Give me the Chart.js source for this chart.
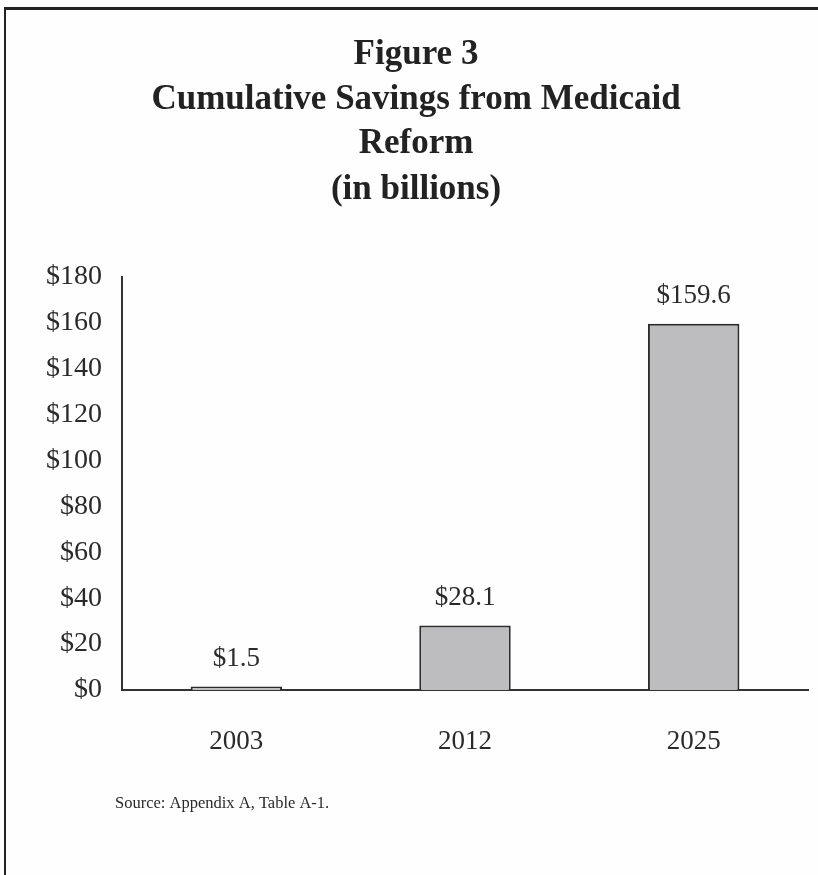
<!DOCTYPE html>
<html>
<head>
<meta charset="utf-8">
<script src="https://cdn.jsdelivr.net/npm/chart.js@4"></script>
<style>
  html, body { margin: 0; padding: 0; background: #fefefe; }
  #wrap { position: relative; width: 818px; height: 875px; }
  #frame { position: absolute; left: 4px; top: 7px; right: 0; bottom: 0;
           border-left: 2px solid #222; border-top: 3px solid #222; }
  canvas { position: absolute; left: 0; top: 0; }
</style>
</head>
<body>
<div id="wrap">
  <div id="frame"></div>
  <canvas id="chart" width="818" height="875"></canvas>
</div>
<script>
// figure data
const years = ['2003', '2012', '2025'];
const savings = [1.5, 28.1, 159.6];
const valueLabels = ['$1.5', '$28.1', '$159.6'];
const titleLines = ['Figure 3', 'Cumulative Savings from Medicaid', 'Reform', '(in billions)'];
const sourceNote = 'Source: Appendix A, Table A-1.';

const serif = '"Liberation Serif", "Times New Roman", serif';

// heading, value labels and source line
const annotate = {
    id: 'annotate',
    afterDraw(chart) {
        const ctx = chart.ctx;
        ctx.save();
        ctx.fillStyle = '#222';
        ctx.textAlign = 'center';
        ctx.textBaseline = 'alphabetic';
        ctx.font = 'bold 35px ' + serif;
        const baselines = [64, 109, 153, 199];
        titleLines.forEach((t, i) => ctx.fillText(t, 416, baselines[i]));

        ctx.font = '27px ' + serif;
        ctx.fillStyle = '#2a2a2a';
        chart.getDatasetMeta(0).data.forEach((bar, i) => {
            ctx.fillText(valueLabels[i], bar.x, bar.y - 21);
        });

        ctx.textAlign = 'left';
        ctx.font = '16.5px ' + serif;
        ctx.fillText(sourceNote, 115, 808);
        ctx.restore();
    }
};

const ctx = document.getElementById('chart').getContext('2d');
new Chart(ctx, {
    type: 'bar',
    data: {
        labels: years,
        datasets: [{
            data: savings,
            backgroundColor: '#bdbdc0',
            borderColor: '#2b2b2b',
            borderWidth: 2,
            categoryPercentage: 1,
            barPercentage: 0.4
        }]
    },
    options: {
        responsive: false,
        animation: false,
        layout: { padding: { top: 277, right: 10, left: 0, bottom: 0 } },
        plugins: {
            legend: { display: false },
            tooltip: { enabled: false }
        },
        scales: {
            x: {
                grid: { display: false, drawTicks: false },
                border: { color: '#333', width: 2 },
                ticks: { color: '#2a2a2a', font: { family: serif, size: 27 }, padding: 36 },
                afterFit: s => { s.height = 185; }
            },
            y: {
                min: 0,
                max: 180,
                grid: { display: false, drawTicks: false },
                border: { color: '#333', width: 2 },
                ticks: {
                    stepSize: 20,
                    padding: 20,
                    color: '#2a2a2a',
                    font: { family: serif, size: 28 },
                    callback: v => '$' + v
                },
                afterFit: s => { s.width = 122; }
            }
        }
    },
    plugins: [annotate]
});
</script>
</body>
</html>
